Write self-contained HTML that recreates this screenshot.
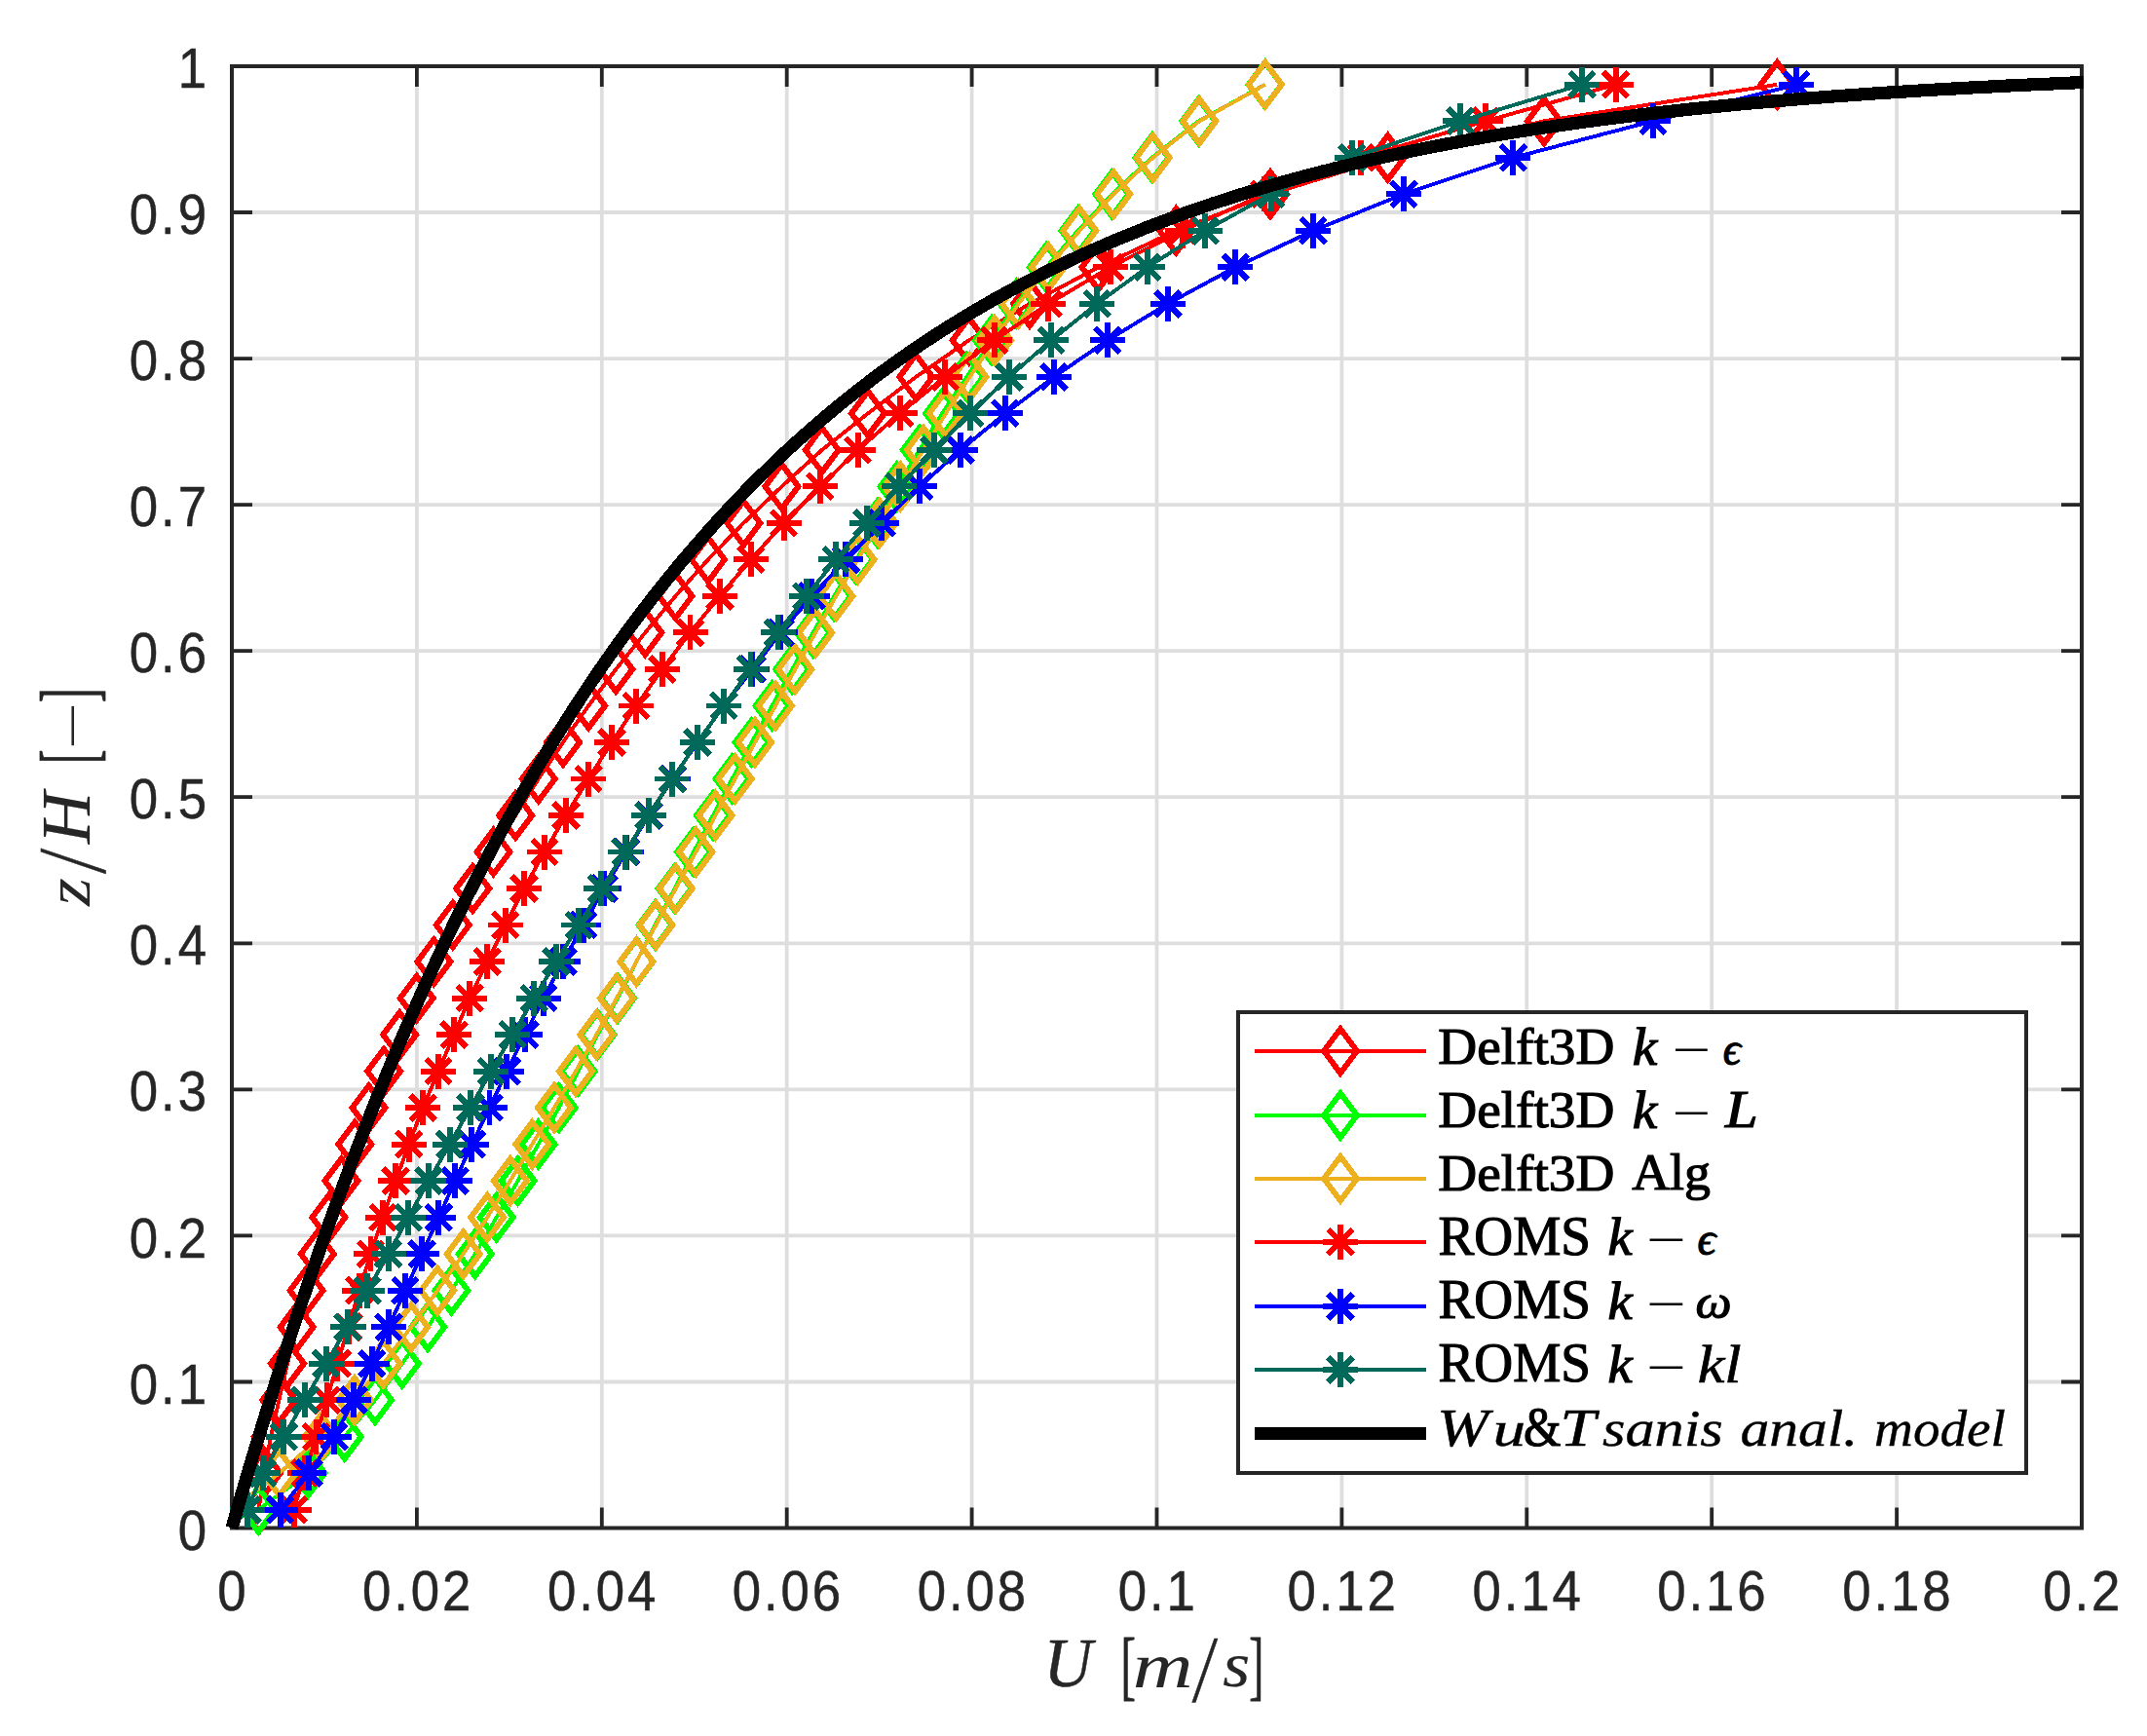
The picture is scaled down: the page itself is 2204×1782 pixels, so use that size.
<!DOCTYPE html>
<html lang="en"><head><meta charset="utf-8"><title>Velocity profiles</title>
<style>html,body{margin:0;padding:0;background:#fff}svg{display:block}text{font-family:"Liberation Sans",sans-serif}.s{font-family:"Liberation Serif",serif}.si{font-family:"Liberation Serif",serif;font-style:italic}.k{fill:#000}</style></head><body>
<svg width="2204" height="1782" viewBox="0 0 2204 1782">
<rect width="2204" height="1782" fill="#fff"/>
<path d="M427.9 68V1568.5M617.8 68V1568.5M807.7 68V1568.5M997.6 68V1568.5M1187.5 68V1568.5M1377.4 68V1568.5M1567.3 68V1568.5M1757.2 68V1568.5M1947.1 68V1568.5M238 1418.5H2137M238 1268.4H2137M238 1118.3H2137M238 968.3H2137M238 818.2H2137M238 668.2H2137M238 518.1H2137M238 368.1H2137M238 218H2137" stroke="#dedede" stroke-width="3.8" fill="none"/>
<path d="M427.9 68v21M427.9 1568.5v-21M238 1418.5h21M2137 1418.5h-21M617.8 68v21M617.8 1568.5v-21M238 1268.4h21M2137 1268.4h-21M807.7 68v21M807.7 1568.5v-21M238 1118.3h21M2137 1118.3h-21M997.6 68v21M997.6 1568.5v-21M238 968.3h21M2137 968.3h-21M1187.5 68v21M1187.5 1568.5v-21M238 818.2h21M2137 818.2h-21M1377.4 68v21M1377.4 1568.5v-21M238 668.2h21M2137 668.2h-21M1567.3 68v21M1567.3 1568.5v-21M238 518.1h21M2137 518.1h-21M1757.2 68v21M1757.2 1568.5v-21M238 368.1h21M2137 368.1h-21M1947.1 68v21M1947.1 1568.5v-21M238 218h21M2137 218h-21" stroke="#262626" stroke-width="3.8" fill="none"/>
<rect x="238" y="68" width="1899" height="1500.5" stroke="#262626" stroke-width="4" fill="none"/>
<polyline points="265.5,1549.7 271,1512.2 278,1474.7 286.4,1437.2 295,1399.7 304.7,1362.2 314.6,1324.7 325.8,1287.2 337.5,1249.6 350.5,1212.1 364.3,1174.6 378.6,1137.1 394.1,1099.6 410.2,1062.1 427.7,1024.6 445.4,987.1 464.8,949.5 485.3,912 506.5,874.5 529.2,837 552.8,799.5 578,762 604.1,724.5 632.3,687 662.3,649.4 693.4,611.9 726.9,574.4 763.3,536.9 802.5,499.4 843.8,461.9 891,424.4 940.3,386.9 994.7,349.3 1057,311.8 1127.5,274.3 1207.3,236.8 1304,199.3 1424.6,161.8 1585,124.3 1824.4,86.8" stroke="#ff0000" stroke-width="3.9" fill="none" stroke-linejoin="round" shape-rendering="crispEdges"/>
<path d="M265.5 1527L282.5 1549.7L265.5 1572.4L248.5 1549.7ZM271 1489.5L288 1512.2L271 1534.9L254 1512.2ZM278 1452L295 1474.7L278 1497.4L261 1474.7ZM286.4 1414.5L303.4 1437.2L286.4 1459.9L269.4 1437.2ZM295 1377L312 1399.7L295 1422.4L278 1399.7ZM304.7 1339.5L321.7 1362.2L304.7 1384.9L287.7 1362.2ZM314.6 1302L331.6 1324.7L314.6 1347.4L297.6 1324.7ZM325.8 1264.5L342.8 1287.2L325.8 1309.9L308.8 1287.2ZM337.5 1226.9L354.5 1249.6L337.5 1272.3L320.5 1249.6ZM350.5 1189.4L367.5 1212.1L350.5 1234.8L333.5 1212.1ZM364.3 1151.9L381.3 1174.6L364.3 1197.3L347.3 1174.6ZM378.6 1114.4L395.6 1137.1L378.6 1159.8L361.6 1137.1ZM394.1 1076.9L411.1 1099.6L394.1 1122.3L377.1 1099.6ZM410.2 1039.4L427.2 1062.1L410.2 1084.8L393.2 1062.1ZM427.7 1001.9L444.7 1024.6L427.7 1047.3L410.7 1024.6ZM445.4 964.4L462.4 987.1L445.4 1009.8L428.4 987.1ZM464.8 926.8L481.8 949.5L464.8 972.2L447.8 949.5ZM485.3 889.3L502.3 912L485.3 934.7L468.3 912ZM506.5 851.8L523.5 874.5L506.5 897.2L489.5 874.5ZM529.2 814.3L546.2 837L529.2 859.7L512.2 837ZM552.8 776.8L569.8 799.5L552.8 822.2L535.8 799.5ZM578 739.3L595 762L578 784.7L561 762ZM604.1 701.8L621.1 724.5L604.1 747.2L587.1 724.5ZM632.3 664.3L649.3 687L632.3 709.7L615.3 687ZM662.3 626.7L679.3 649.4L662.3 672.1L645.3 649.4ZM693.4 589.2L710.4 611.9L693.4 634.6L676.4 611.9ZM726.9 551.7L743.9 574.4L726.9 597.1L709.9 574.4ZM763.3 514.2L780.3 536.9L763.3 559.6L746.3 536.9ZM802.5 476.7L819.5 499.4L802.5 522.1L785.5 499.4ZM843.8 439.2L860.8 461.9L843.8 484.6L826.8 461.9ZM891 401.7L908 424.4L891 447.1L874 424.4ZM940.3 364.2L957.3 386.9L940.3 409.6L923.3 386.9ZM994.7 326.6L1011.7 349.3L994.7 372L977.7 349.3ZM1057 289.1L1074 311.8L1057 334.5L1040 311.8ZM1127.5 251.6L1144.5 274.3L1127.5 297L1110.5 274.3ZM1207.3 214.1L1224.3 236.8L1207.3 259.5L1190.3 236.8ZM1304 176.6L1321 199.3L1304 222L1287 199.3ZM1424.6 139.1L1441.6 161.8L1424.6 184.5L1407.6 161.8ZM1585 101.6L1602 124.3L1585 147L1568 124.3ZM1824.4 64.1L1841.4 86.8L1824.4 109.5L1807.4 86.8Z" stroke="#ff0000" stroke-width="5.9" fill="none" stroke-linejoin="miter" stroke-miterlimit="10" shape-rendering="crispEdges"/>
<polyline points="265.2,1549.7 316.5,1512.2 353.7,1474.7 385,1437.2 412.8,1399.7 439.2,1362.2 463.4,1324.7 487.7,1287.2 509.7,1249.6 531.6,1212.1 552.6,1174.6 573.7,1137.1 593.6,1099.6 613.5,1062.1 634,1024.6 653.5,987.1 672.5,949.5 692.7,912 712,874.5 732,837 751.6,799.5 771.6,762 792.6,724.5 813.2,687 834.6,649.4 856.2,611.9 879,574.4 901,536.9 920.6,499.4 943.9,461.9 967.2,424.4 992.3,386.9 1018,349.3 1043.3,311.8 1074,274.3 1106.5,236.8 1141.5,199.3 1182.5,161.8 1230.5,124.3 1298.5,86.8" stroke="#00ff00" stroke-width="3.9" fill="none" stroke-linejoin="round" shape-rendering="crispEdges"/>
<path d="M265.2 1527L282.2 1549.7L265.2 1572.4L248.2 1549.7ZM316.5 1489.5L333.5 1512.2L316.5 1534.9L299.5 1512.2ZM353.7 1452L370.7 1474.7L353.7 1497.4L336.7 1474.7ZM385 1414.5L402 1437.2L385 1459.9L368 1437.2ZM412.8 1377L429.8 1399.7L412.8 1422.4L395.8 1399.7ZM439.2 1339.5L456.2 1362.2L439.2 1384.9L422.2 1362.2ZM463.4 1302L480.4 1324.7L463.4 1347.4L446.4 1324.7ZM487.7 1264.5L504.7 1287.2L487.7 1309.9L470.7 1287.2ZM509.7 1226.9L526.7 1249.6L509.7 1272.3L492.7 1249.6ZM531.6 1189.4L548.6 1212.1L531.6 1234.8L514.6 1212.1ZM552.6 1151.9L569.6 1174.6L552.6 1197.3L535.6 1174.6ZM573.7 1114.4L590.7 1137.1L573.7 1159.8L556.7 1137.1ZM593.6 1076.9L610.6 1099.6L593.6 1122.3L576.6 1099.6ZM613.5 1039.4L630.5 1062.1L613.5 1084.8L596.5 1062.1ZM634 1001.9L651 1024.6L634 1047.3L617 1024.6ZM653.5 964.4L670.5 987.1L653.5 1009.8L636.5 987.1ZM672.5 926.8L689.5 949.5L672.5 972.2L655.5 949.5ZM692.7 889.3L709.7 912L692.7 934.7L675.7 912ZM712 851.8L729 874.5L712 897.2L695 874.5ZM732 814.3L749 837L732 859.7L715 837ZM751.6 776.8L768.6 799.5L751.6 822.2L734.6 799.5ZM771.6 739.3L788.6 762L771.6 784.7L754.6 762ZM792.6 701.8L809.6 724.5L792.6 747.2L775.6 724.5ZM813.2 664.3L830.2 687L813.2 709.7L796.2 687ZM834.6 626.7L851.6 649.4L834.6 672.1L817.6 649.4ZM856.2 589.2L873.2 611.9L856.2 634.6L839.2 611.9ZM879 551.7L896 574.4L879 597.1L862 574.4ZM901 514.2L918 536.9L901 559.6L884 536.9ZM920.6 476.7L937.6 499.4L920.6 522.1L903.6 499.4ZM943.9 439.2L960.9 461.9L943.9 484.6L926.9 461.9ZM967.2 401.7L984.2 424.4L967.2 447.1L950.2 424.4ZM992.3 364.2L1009.3 386.9L992.3 409.6L975.3 386.9ZM1018 326.6L1035 349.3L1018 372L1001 349.3ZM1043.3 289.1L1060.3 311.8L1043.3 334.5L1026.3 311.8ZM1074 251.6L1091 274.3L1074 297L1057 274.3ZM1106.5 214.1L1123.5 236.8L1106.5 259.5L1089.5 236.8ZM1141.5 176.6L1158.5 199.3L1141.5 222L1124.5 199.3ZM1182.5 139.1L1199.5 161.8L1182.5 184.5L1165.5 161.8ZM1230.5 101.6L1247.5 124.3L1230.5 147L1213.5 124.3ZM1298.5 64.1L1315.5 86.8L1298.5 109.5L1281.5 86.8Z" stroke="#00ff00" stroke-width="5.9" fill="none" stroke-linejoin="miter" stroke-miterlimit="10" shape-rendering="crispEdges"/>
<polyline points="236.6,1549.7 286.7,1512.2 329.6,1474.7 364,1437.2 393.6,1399.7 422.1,1362.2 449.1,1324.7 475.7,1287.2 500.2,1249.6 523.8,1212.1 546.3,1174.6 569,1137.1 591,1099.6 612.3,1062.1 633,1024.6 653.3,987.1 673.4,949.5 693.8,912 714.4,874.5 734.5,837 754.6,799.5 775.1,762 796,724.5 816.2,687 837.2,649.4 858.3,611.9 880.6,574.4 903,536.9 924.3,499.4 948,461.9 970.9,424.4 995.5,386.9 1021,349.3 1045.4,311.8 1076.2,274.3 1108.3,236.8 1143.2,199.3 1183.6,161.8 1231.3,124.3 1298.8,86.8" stroke="#edb120" stroke-width="3.9" fill="none" stroke-linejoin="round" shape-rendering="crispEdges"/>
<path d="M286.7 1489.5L303.7 1512.2L286.7 1534.9L269.7 1512.2ZM329.6 1452L346.6 1474.7L329.6 1497.4L312.6 1474.7ZM364 1414.5L381 1437.2L364 1459.9L347 1437.2ZM393.6 1377L410.6 1399.7L393.6 1422.4L376.6 1399.7ZM422.1 1339.5L439.1 1362.2L422.1 1384.9L405.1 1362.2ZM449.1 1302L466.1 1324.7L449.1 1347.4L432.1 1324.7ZM475.7 1264.5L492.7 1287.2L475.7 1309.9L458.7 1287.2ZM500.2 1226.9L517.2 1249.6L500.2 1272.3L483.2 1249.6ZM523.8 1189.4L540.8 1212.1L523.8 1234.8L506.8 1212.1ZM546.3 1151.9L563.3 1174.6L546.3 1197.3L529.3 1174.6ZM569 1114.4L586 1137.1L569 1159.8L552 1137.1ZM591 1076.9L608 1099.6L591 1122.3L574 1099.6ZM612.3 1039.4L629.3 1062.1L612.3 1084.8L595.3 1062.1ZM633 1001.9L650 1024.6L633 1047.3L616 1024.6ZM653.3 964.4L670.3 987.1L653.3 1009.8L636.3 987.1ZM673.4 926.8L690.4 949.5L673.4 972.2L656.4 949.5ZM693.8 889.3L710.8 912L693.8 934.7L676.8 912ZM714.4 851.8L731.4 874.5L714.4 897.2L697.4 874.5ZM734.5 814.3L751.5 837L734.5 859.7L717.5 837ZM754.6 776.8L771.6 799.5L754.6 822.2L737.6 799.5ZM775.1 739.3L792.1 762L775.1 784.7L758.1 762ZM796 701.8L813 724.5L796 747.2L779 724.5ZM816.2 664.3L833.2 687L816.2 709.7L799.2 687ZM837.2 626.7L854.2 649.4L837.2 672.1L820.2 649.4ZM858.3 589.2L875.3 611.9L858.3 634.6L841.3 611.9ZM880.6 551.7L897.6 574.4L880.6 597.1L863.6 574.4ZM903 514.2L920 536.9L903 559.6L886 536.9ZM924.3 476.7L941.3 499.4L924.3 522.1L907.3 499.4ZM948 439.2L965 461.9L948 484.6L931 461.9ZM970.9 401.7L987.9 424.4L970.9 447.1L953.9 424.4ZM995.5 364.2L1012.5 386.9L995.5 409.6L978.5 386.9ZM1021 326.6L1038 349.3L1021 372L1004 349.3ZM1045.4 289.1L1062.4 311.8L1045.4 334.5L1028.4 311.8ZM1076.2 251.6L1093.2 274.3L1076.2 297L1059.2 274.3ZM1108.3 214.1L1125.3 236.8L1108.3 259.5L1091.3 236.8ZM1143.2 176.6L1160.2 199.3L1143.2 222L1126.2 199.3ZM1183.6 139.1L1200.6 161.8L1183.6 184.5L1166.6 161.8ZM1231.3 101.6L1248.3 124.3L1231.3 147L1214.3 124.3ZM1298.8 64.1L1315.8 86.8L1298.8 109.5L1281.8 86.8Z" stroke="#edb120" stroke-width="5.9" fill="none" stroke-linejoin="miter" stroke-miterlimit="10" shape-rendering="crispEdges"/>
<polyline points="301.6,1549.7 313.1,1512.2 324.5,1474.7 335.5,1437.2 346.4,1399.7 357.8,1362.2 368.8,1324.7 380.5,1287.2 393.1,1249.6 406.2,1212.1 419.8,1174.6 434.1,1137.1 450,1099.6 466.1,1062.1 482.1,1024.6 500.2,987.1 518.8,949.5 538,912 559,874.5 581,837 604.1,799.5 627.9,762 653.1,724.5 679.8,687 708.5,649.4 738.9,611.9 770.9,574.4 804.7,536.9 842,499.4 880.7,461.9 923.6,424.4 970.1,386.9 1020.8,349.3 1076.4,311.8 1139.7,274.3 1214,236.8 1298,199.3 1397.3,161.8 1525.1,124.3 1658.6,86.8" stroke="#ff0000" stroke-width="3.9" fill="none" stroke-linejoin="round" shape-rendering="crispEdges"/>
<path d="M283.6 1549.7H319.6M301.6 1531.7V1567.7M288.9 1537L314.3 1562.5M288.9 1562.5L314.3 1537M295.1 1512.2H331.1M313.1 1494.2V1530.2M300.4 1499.5L325.8 1525M300.4 1525L325.8 1499.5M306.5 1474.7H342.5M324.5 1456.7V1492.7M311.8 1462L337.2 1487.4M311.8 1487.4L337.2 1462M317.5 1437.2H353.5M335.5 1419.2V1455.2M322.8 1424.5L348.2 1449.9M322.8 1449.9L348.2 1424.5M328.4 1399.7H364.4M346.4 1381.7V1417.7M333.7 1387L359.1 1412.4M333.7 1412.4L359.1 1387M339.8 1362.2H375.8M357.8 1344.2V1380.2M345.1 1349.5L370.5 1374.9M345.1 1374.9L370.5 1349.5M350.8 1324.7H386.8M368.8 1306.7V1342.7M356.1 1311.9L381.5 1337.4M356.1 1337.4L381.5 1311.9M362.5 1287.2H398.5M380.5 1269.2V1305.2M367.8 1274.4L393.2 1299.9M367.8 1299.9L393.2 1274.4M375.1 1249.6H411.1M393.1 1231.6V1267.6M380.4 1236.9L405.8 1262.4M380.4 1262.4L405.8 1236.9M388.2 1212.1H424.2M406.2 1194.1V1230.1M393.5 1199.4L418.9 1224.9M393.5 1224.9L418.9 1199.4M401.8 1174.6H437.8M419.8 1156.6V1192.6M407.1 1161.9L432.5 1187.3M407.1 1187.3L432.5 1161.9M416.1 1137.1H452.1M434.1 1119.1V1155.1M421.4 1124.4L446.8 1149.8M421.4 1149.8L446.8 1124.4M432 1099.6H468M450 1081.6V1117.6M437.3 1086.9L462.7 1112.3M437.3 1112.3L462.7 1086.9M448.1 1062.1H484.1M466.1 1044.1V1080.1M453.4 1049.4L478.8 1074.8M453.4 1074.8L478.8 1049.4M464.1 1024.6H500.1M482.1 1006.6V1042.6M469.4 1011.8L494.8 1037.3M469.4 1037.3L494.8 1011.8M482.2 987.1H518.2M500.2 969.1V1005.1M487.5 974.3L512.9 999.8M487.5 999.8L512.9 974.3M500.8 949.5H536.8M518.8 931.5V967.5M506.1 936.8L531.5 962.3M506.1 962.3L531.5 936.8M520 912H556M538 894V930M525.3 899.3L550.7 924.8M525.3 924.8L550.7 899.3M541 874.5H577M559 856.5V892.5M546.3 861.8L571.7 887.2M546.3 887.2L571.7 861.8M563 837H599M581 819V855M568.3 824.3L593.7 849.7M568.3 849.7L593.7 824.3M586.1 799.5H622.1M604.1 781.5V817.5M591.4 786.8L616.8 812.2M591.4 812.2L616.8 786.8M609.9 762H645.9M627.9 744V780M615.2 749.3L640.6 774.7M615.2 774.7L640.6 749.3M635.1 724.5H671.1M653.1 706.5V742.5M640.4 711.7L665.8 737.2M640.4 737.2L665.8 711.7M661.8 687H697.8M679.8 669V705M667.1 674.2L692.5 699.7M667.1 699.7L692.5 674.2M690.5 649.4H726.5M708.5 631.4V667.4M695.8 636.7L721.2 662.2M695.8 662.2L721.2 636.7M720.9 611.9H756.9M738.9 593.9V629.9M726.2 599.2L751.6 624.7M726.2 624.7L751.6 599.2M752.9 574.4H788.9M770.9 556.4V592.4M758.2 561.7L783.6 587.1M758.2 587.1L783.6 561.7M786.7 536.9H822.7M804.7 518.9V554.9M792 524.2L817.4 549.6M792 549.6L817.4 524.2M824 499.4H860M842 481.4V517.4M829.3 486.7L854.7 512.1M829.3 512.1L854.7 486.7M862.7 461.9H898.7M880.7 443.9V479.9M868 449.2L893.4 474.6M868 474.6L893.4 449.2M905.6 424.4H941.6M923.6 406.4V442.4M910.9 411.6L936.3 437.1M910.9 437.1L936.3 411.6M952.1 386.9H988.1M970.1 368.9V404.9M957.4 374.1L982.8 399.6M957.4 399.6L982.8 374.1M1002.8 349.3H1038.8M1020.8 331.3V367.3M1008.1 336.6L1033.5 362.1M1008.1 362.1L1033.5 336.6M1058.4 311.8H1094.4M1076.4 293.8V329.8M1063.7 299.1L1089.1 324.6M1063.7 324.6L1089.1 299.1M1121.7 274.3H1157.7M1139.7 256.3V292.3M1127 261.6L1152.4 287M1127 287L1152.4 261.6M1196 236.8H1232M1214 218.8V254.8M1201.3 224.1L1226.7 249.5M1201.3 249.5L1226.7 224.1M1280 199.3H1316M1298 181.3V217.3M1285.3 186.6L1310.7 212M1285.3 212L1310.7 186.6M1379.3 161.8H1415.3M1397.3 143.8V179.8M1384.6 149.1L1410 174.5M1384.6 174.5L1410 149.1M1507.1 124.3H1543.1M1525.1 106.3V142.3M1512.4 111.5L1537.8 137M1512.4 137L1537.8 111.5M1640.6 86.8H1676.6M1658.6 68.8V104.8M1645.9 74L1671.3 99.5M1645.9 99.5L1671.3 74" stroke="#ff0000" stroke-width="5.9" fill="none" shape-rendering="crispEdges"/>
<polyline points="287.6,1549.7 317.2,1512.2 343.1,1474.7 363.2,1437.2 381.8,1399.7 399,1362.2 415.9,1324.7 433.1,1287.2 450.4,1249.6 467.1,1212.1 484.4,1174.6 502.5,1137.1 520.4,1099.6 538.9,1062.1 557.9,1024.6 578,987.1 598.9,949.5 620,912 642.8,874.5 666,837 690.5,799.5 716,762 743,724.5 772.4,687 801.3,649.4 833.5,611.9 868.3,574.4 905.3,536.9 944.1,499.4 986,461.9 1032,424.4 1081.9,386.9 1137,349.3 1198.8,311.8 1268.2,274.3 1348,236.8 1440.9,199.3 1553.4,161.8 1696.9,124.3 1844.1,86.8" stroke="#0000ff" stroke-width="3.9" fill="none" stroke-linejoin="round" shape-rendering="crispEdges"/>
<path d="M269.6 1549.7H305.6M287.6 1531.7V1567.7M274.9 1537L300.3 1562.5M274.9 1562.5L300.3 1537M299.2 1512.2H335.2M317.2 1494.2V1530.2M304.5 1499.5L329.9 1525M304.5 1525L329.9 1499.5M325.1 1474.7H361.1M343.1 1456.7V1492.7M330.4 1462L355.8 1487.4M330.4 1487.4L355.8 1462M345.2 1437.2H381.2M363.2 1419.2V1455.2M350.5 1424.5L375.9 1449.9M350.5 1449.9L375.9 1424.5M363.8 1399.7H399.8M381.8 1381.7V1417.7M369.1 1387L394.5 1412.4M369.1 1412.4L394.5 1387M381 1362.2H417M399 1344.2V1380.2M386.3 1349.5L411.7 1374.9M386.3 1374.9L411.7 1349.5M397.9 1324.7H433.9M415.9 1306.7V1342.7M403.2 1311.9L428.6 1337.4M403.2 1337.4L428.6 1311.9M415.1 1287.2H451.1M433.1 1269.2V1305.2M420.4 1274.4L445.8 1299.9M420.4 1299.9L445.8 1274.4M432.4 1249.6H468.4M450.4 1231.6V1267.6M437.7 1236.9L463.1 1262.4M437.7 1262.4L463.1 1236.9M449.1 1212.1H485.1M467.1 1194.1V1230.1M454.4 1199.4L479.8 1224.9M454.4 1224.9L479.8 1199.4M466.4 1174.6H502.4M484.4 1156.6V1192.6M471.7 1161.9L497.1 1187.3M471.7 1187.3L497.1 1161.9M484.5 1137.1H520.5M502.5 1119.1V1155.1M489.8 1124.4L515.2 1149.8M489.8 1149.8L515.2 1124.4M502.4 1099.6H538.4M520.4 1081.6V1117.6M507.7 1086.9L533.1 1112.3M507.7 1112.3L533.1 1086.9M520.9 1062.1H556.9M538.9 1044.1V1080.1M526.2 1049.4L551.6 1074.8M526.2 1074.8L551.6 1049.4M539.9 1024.6H575.9M557.9 1006.6V1042.6M545.2 1011.8L570.6 1037.3M545.2 1037.3L570.6 1011.8M560 987.1H596M578 969.1V1005.1M565.3 974.3L590.7 999.8M565.3 999.8L590.7 974.3M580.9 949.5H616.9M598.9 931.5V967.5M586.2 936.8L611.6 962.3M586.2 962.3L611.6 936.8M602 912H638M620 894V930M607.3 899.3L632.7 924.8M607.3 924.8L632.7 899.3M624.8 874.5H660.8M642.8 856.5V892.5M630.1 861.8L655.5 887.2M630.1 887.2L655.5 861.8M648 837H684M666 819V855M653.3 824.3L678.7 849.7M653.3 849.7L678.7 824.3M672.5 799.5H708.5M690.5 781.5V817.5M677.8 786.8L703.2 812.2M677.8 812.2L703.2 786.8M698 762H734M716 744V780M703.3 749.3L728.7 774.7M703.3 774.7L728.7 749.3M725 724.5H761M743 706.5V742.5M730.3 711.7L755.7 737.2M730.3 737.2L755.7 711.7M754.4 687H790.4M772.4 669V705M759.7 674.2L785.1 699.7M759.7 699.7L785.1 674.2M783.3 649.4H819.3M801.3 631.4V667.4M788.6 636.7L814 662.2M788.6 662.2L814 636.7M815.5 611.9H851.5M833.5 593.9V629.9M820.8 599.2L846.2 624.7M820.8 624.7L846.2 599.2M850.3 574.4H886.3M868.3 556.4V592.4M855.6 561.7L881 587.1M855.6 587.1L881 561.7M887.3 536.9H923.3M905.3 518.9V554.9M892.6 524.2L918 549.6M892.6 549.6L918 524.2M926.1 499.4H962.1M944.1 481.4V517.4M931.4 486.7L956.8 512.1M931.4 512.1L956.8 486.7M968 461.9H1004M986 443.9V479.9M973.3 449.2L998.7 474.6M973.3 474.6L998.7 449.2M1014 424.4H1050M1032 406.4V442.4M1019.3 411.6L1044.7 437.1M1019.3 437.1L1044.7 411.6M1063.9 386.9H1099.9M1081.9 368.9V404.9M1069.2 374.1L1094.6 399.6M1069.2 399.6L1094.6 374.1M1119 349.3H1155M1137 331.3V367.3M1124.3 336.6L1149.7 362.1M1124.3 362.1L1149.7 336.6M1180.8 311.8H1216.8M1198.8 293.8V329.8M1186.1 299.1L1211.5 324.6M1186.1 324.6L1211.5 299.1M1250.2 274.3H1286.2M1268.2 256.3V292.3M1255.5 261.6L1280.9 287M1255.5 287L1280.9 261.6M1330 236.8H1366M1348 218.8V254.8M1335.3 224.1L1360.7 249.5M1335.3 249.5L1360.7 224.1M1422.9 199.3H1458.9M1440.9 181.3V217.3M1428.2 186.6L1453.6 212M1428.2 212L1453.6 186.6M1535.4 161.8H1571.4M1553.4 143.8V179.8M1540.7 149.1L1566.1 174.5M1540.7 174.5L1566.1 149.1M1678.9 124.3H1714.9M1696.9 106.3V142.3M1684.2 111.5L1709.6 137M1684.2 137L1709.6 111.5M1826.1 86.8H1862.1M1844.1 68.8V104.8M1831.4 74L1856.8 99.5M1831.4 99.5L1856.8 74" stroke="#0000ff" stroke-width="5.9" fill="none" shape-rendering="crispEdges"/>
<polyline points="253.9,1549.7 269.7,1512.2 291.3,1474.7 312.9,1437.2 334.7,1399.7 356.7,1362.2 377.2,1324.7 398.6,1287.2 419.2,1249.6 440.1,1212.1 461.7,1174.6 483,1137.1 504,1099.6 526.3,1062.1 548.2,1024.6 571,987.1 594.3,949.5 617.4,912 641.9,874.5 665.6,837 690.3,799.5 715.9,762 743,724.5 770.5,687 798.5,649.4 827.7,611.9 858.1,574.4 890,536.9 923,499.4 959,461.9 996.2,424.4 1035.9,386.9 1079.2,349.3 1126.1,311.8 1177.8,274.3 1237.1,236.8 1304.6,199.3 1387.9,161.8 1499.2,124.3 1624,86.8" stroke="#00695a" stroke-width="3.9" fill="none" stroke-linejoin="round" shape-rendering="crispEdges"/>
<path d="M235.9 1549.7H271.9M253.9 1531.7V1567.7M241.2 1537L266.6 1562.5M241.2 1562.5L266.6 1537M251.7 1512.2H287.7M269.7 1494.2V1530.2M257 1499.5L282.4 1525M257 1525L282.4 1499.5M273.3 1474.7H309.3M291.3 1456.7V1492.7M278.6 1462L304 1487.4M278.6 1487.4L304 1462M294.9 1437.2H330.9M312.9 1419.2V1455.2M300.2 1424.5L325.6 1449.9M300.2 1449.9L325.6 1424.5M316.7 1399.7H352.7M334.7 1381.7V1417.7M322 1387L347.4 1412.4M322 1412.4L347.4 1387M338.7 1362.2H374.7M356.7 1344.2V1380.2M344 1349.5L369.4 1374.9M344 1374.9L369.4 1349.5M359.2 1324.7H395.2M377.2 1306.7V1342.7M364.5 1311.9L389.9 1337.4M364.5 1337.4L389.9 1311.9M380.6 1287.2H416.6M398.6 1269.2V1305.2M385.9 1274.4L411.3 1299.9M385.9 1299.9L411.3 1274.4M401.2 1249.6H437.2M419.2 1231.6V1267.6M406.5 1236.9L431.9 1262.4M406.5 1262.4L431.9 1236.9M422.1 1212.1H458.1M440.1 1194.1V1230.1M427.4 1199.4L452.8 1224.9M427.4 1224.9L452.8 1199.4M443.7 1174.6H479.7M461.7 1156.6V1192.6M449 1161.9L474.4 1187.3M449 1187.3L474.4 1161.9M465 1137.1H501M483 1119.1V1155.1M470.3 1124.4L495.7 1149.8M470.3 1149.8L495.7 1124.4M486 1099.6H522M504 1081.6V1117.6M491.3 1086.9L516.7 1112.3M491.3 1112.3L516.7 1086.9M508.3 1062.1H544.3M526.3 1044.1V1080.1M513.6 1049.4L539 1074.8M513.6 1074.8L539 1049.4M530.2 1024.6H566.2M548.2 1006.6V1042.6M535.5 1011.8L560.9 1037.3M535.5 1037.3L560.9 1011.8M553 987.1H589M571 969.1V1005.1M558.3 974.3L583.7 999.8M558.3 999.8L583.7 974.3M576.3 949.5H612.3M594.3 931.5V967.5M581.6 936.8L607 962.3M581.6 962.3L607 936.8M599.4 912H635.4M617.4 894V930M604.7 899.3L630.1 924.8M604.7 924.8L630.1 899.3M623.9 874.5H659.9M641.9 856.5V892.5M629.2 861.8L654.6 887.2M629.2 887.2L654.6 861.8M647.6 837H683.6M665.6 819V855M652.9 824.3L678.3 849.7M652.9 849.7L678.3 824.3M672.3 799.5H708.3M690.3 781.5V817.5M677.6 786.8L703 812.2M677.6 812.2L703 786.8M697.9 762H733.9M715.9 744V780M703.2 749.3L728.6 774.7M703.2 774.7L728.6 749.3M725 724.5H761M743 706.5V742.5M730.3 711.7L755.7 737.2M730.3 737.2L755.7 711.7M752.5 687H788.5M770.5 669V705M757.8 674.2L783.2 699.7M757.8 699.7L783.2 674.2M780.5 649.4H816.5M798.5 631.4V667.4M785.8 636.7L811.2 662.2M785.8 662.2L811.2 636.7M809.7 611.9H845.7M827.7 593.9V629.9M815 599.2L840.4 624.7M815 624.7L840.4 599.2M840.1 574.4H876.1M858.1 556.4V592.4M845.4 561.7L870.8 587.1M845.4 587.1L870.8 561.7M872 536.9H908M890 518.9V554.9M877.3 524.2L902.7 549.6M877.3 549.6L902.7 524.2M905 499.4H941M923 481.4V517.4M910.3 486.7L935.7 512.1M910.3 512.1L935.7 486.7M941 461.9H977M959 443.9V479.9M946.3 449.2L971.7 474.6M946.3 474.6L971.7 449.2M978.2 424.4H1014.2M996.2 406.4V442.4M983.5 411.6L1008.9 437.1M983.5 437.1L1008.9 411.6M1017.9 386.9H1053.9M1035.9 368.9V404.9M1023.2 374.1L1048.6 399.6M1023.2 399.6L1048.6 374.1M1061.2 349.3H1097.2M1079.2 331.3V367.3M1066.5 336.6L1091.9 362.1M1066.5 362.1L1091.9 336.6M1108.1 311.8H1144.1M1126.1 293.8V329.8M1113.4 299.1L1138.8 324.6M1113.4 324.6L1138.8 299.1M1159.8 274.3H1195.8M1177.8 256.3V292.3M1165.1 261.6L1190.5 287M1165.1 287L1190.5 261.6M1219.1 236.8H1255.1M1237.1 218.8V254.8M1224.4 224.1L1249.8 249.5M1224.4 249.5L1249.8 224.1M1286.6 199.3H1322.6M1304.6 181.3V217.3M1291.9 186.6L1317.3 212M1291.9 212L1317.3 186.6M1369.9 161.8H1405.9M1387.9 143.8V179.8M1375.2 149.1L1400.6 174.5M1375.2 174.5L1400.6 149.1M1481.2 124.3H1517.2M1499.2 106.3V142.3M1486.5 111.5L1511.9 137M1486.5 137L1511.9 111.5M1606 86.8H1642M1624 68.8V104.8M1611.3 74L1636.7 99.5M1611.3 99.5L1636.7 74" stroke="#00695a" stroke-width="5.9" fill="none" shape-rendering="crispEdges"/>
<polyline points="238,1568.5 242.3,1553.5 246.6,1538.5 251,1523.5 255.5,1508.5 259.9,1493.5 264.5,1478.5 269.1,1463.5 273.7,1448.5 278.4,1433.5 283.1,1418.5 287.9,1403.4 292.7,1388.4 297.6,1373.4 302.5,1358.4 307.5,1343.4 312.6,1328.4 317.7,1313.4 322.9,1298.4 328.1,1283.4 333.4,1268.4 338.8,1253.4 344.3,1238.4 349.8,1223.4 355.4,1208.4 361,1193.4 366.8,1178.4 372.6,1163.4 378.5,1148.4 384.4,1133.4 390.5,1118.3 396.6,1103.3 402.9,1088.3 409.2,1073.3 415.6,1058.3 422.1,1043.3 428.8,1028.3 435.5,1013.3 442.3,998.3 449.3,983.3 456.3,968.3 463.5,953.3 470.8,938.3 478.2,923.3 485.8,908.3 493.4,893.3 501.3,878.3 509.2,863.3 517.4,848.3 525.7,833.3 534.1,818.2 542.7,803.2 551.5,788.2 560.5,773.2 569.7,758.2 579,743.2 588.6,728.2 598.4,713.2 608.4,698.2 618.7,683.2 629.2,668.2 640,653.2 651.1,638.2 662.5,623.2 674.1,608.2 686.1,593.2 698.5,578.2 711.2,563.2 724.3,548.2 737.8,533.2 751.8,518.1 766.2,503.1 781.2,488.1 796.6,473.1 812.7,458.1 829.4,443.1 846.8,428.1 864.9,413.1 883.8,398.1 903.6,383.1 924.3,368.1 946.1,353.1 969.1,338.1 993.4,323.1 1019.2,308.1 1046.6,293.1 1075.9,278.1 1107.3,263.1 1141.3,248.1 1178.2,233.1 1218.6,218 1218.6,218 1219.7,217.7 1220.8,217.3 1221.8,216.9 1222.9,216.5 1224,216.2 1225,215.8 1226.1,215.4 1227.2,215 1228.3,214.7 1229.4,214.3 1230.5,213.9 1231.6,213.5 1232.7,213.2 1233.8,212.8 1234.9,212.4 1236,212 1237.1,211.7 1238.2,211.3 1239.3,210.9 1240.4,210.5 1241.5,210.2 1242.7,209.8 1243.8,209.4 1244.9,209 1246,208.6 1247.2,208.3 1248.3,207.9 1249.5,207.5 1250.6,207.1 1251.7,206.8 1252.9,206.4 1254,206 1255.2,205.6 1256.4,205.3 1257.5,204.9 1258.7,204.5 1259.9,204.1 1261,203.8 1262.2,203.4 1263.4,203 1264.6,202.6 1265.7,202.3 1266.9,201.9 1268.1,201.5 1269.3,201.1 1270.5,200.8 1271.7,200.4 1272.9,200 1274.1,199.6 1275.3,199.2 1276.6,198.9 1277.8,198.5 1279,198.1 1280.2,197.7 1281.5,197.4 1282.7,197 1283.9,196.6 1285.2,196.2 1286.4,195.9 1287.7,195.5 1288.9,195.1 1290.2,194.7 1291.4,194.4 1292.7,194 1293.9,193.6 1295.2,193.2 1296.5,192.9 1297.8,192.5 1299,192.1 1300.3,191.7 1301.6,191.4 1302.9,191 1304.2,190.6 1305.5,190.2 1306.8,189.8 1308.1,189.5 1309.4,189.1 1310.8,188.7 1312.1,188.3 1313.4,188 1314.7,187.6 1316.1,187.2 1317.4,186.8 1318.7,186.5 1320.1,186.1 1321.4,185.7 1322.8,185.3 1324.1,185 1325.5,184.6 1326.9,184.2 1328.2,183.8 1329.6,183.5 1331,183.1 1332.4,182.7 1333.8,182.3 1335.2,182 1336.6,181.6 1338,181.2 1339.4,180.8 1340.8,180.4 1342.2,180.1 1343.6,179.7 1345.1,179.3 1346.5,178.9 1347.9,178.6 1349.4,178.2 1350.8,177.8 1352.3,177.4 1353.7,177.1 1355.2,176.7 1356.6,176.3 1358.1,175.9 1359.6,175.6 1361.1,175.2 1362.6,174.8 1364,174.4 1365.5,174.1 1367,173.7 1368.6,173.3 1370.1,172.9 1371.6,172.6 1373.1,172.2 1374.6,171.8 1376.2,171.4 1377.7,171 1379.3,170.7 1380.8,170.3 1382.4,169.9 1383.9,169.5 1385.5,169.2 1387.1,168.8 1388.6,168.4 1390.2,168 1391.8,167.7 1393.4,167.3 1395,166.9 1396.6,166.5 1398.3,166.2 1399.9,165.8 1401.5,165.4 1403.1,165 1404.8,164.7 1406.4,164.3 1408.1,163.9 1409.7,163.5 1411.4,163.1 1413.1,162.8 1414.8,162.4 1416.4,162 1418.1,161.6 1419.8,161.3 1421.5,160.9 1423.3,160.5 1425,160.1 1426.7,159.8 1428.4,159.4 1430.2,159 1431.9,158.6 1433.7,158.3 1435.4,157.9 1437.2,157.5 1439,157.1 1440.8,156.8 1442.6,156.4 1444.4,156 1446.2,155.6 1448,155.3 1449.8,154.9 1451.6,154.5 1453.5,154.1 1455.3,153.7 1457.2,153.4 1459,153 1460.9,152.6 1462.8,152.2 1464.7,151.9 1466.6,151.5 1468.5,151.1 1470.4,150.7 1472.3,150.4 1474.3,150 1476.2,149.6 1478.1,149.2 1480.1,148.9 1482.1,148.5 1484,148.1 1486,147.7 1488,147.4 1490,147 1492,146.6 1494.1,146.2 1496.1,145.9 1498.1,145.5 1500.2,145.1 1502.2,144.7 1504.3,144.3 1506.4,144 1508.5,143.6 1510.6,143.2 1512.7,142.8 1514.8,142.5 1517,142.1 1519.1,141.7 1521.3,141.3 1523.4,141 1525.6,140.6 1527.8,140.2 1530,139.8 1532.2,139.5 1534.4,139.1 1536.7,138.7 1538.9,138.3 1541.2,138 1543.4,137.6 1545.7,137.2 1548,136.8 1550.3,136.5 1552.6,136.1 1555,135.7 1557.3,135.3 1559.7,134.9 1562,134.6 1564.4,134.2 1566.8,133.8 1569.2,133.4 1571.6,133.1 1574.1,132.7 1576.5,132.3 1579,131.9 1581.5,131.6 1584,131.2 1586.5,130.8 1589,130.4 1591.6,130.1 1594.1,129.7 1596.7,129.3 1599.3,128.9 1601.9,128.6 1604.5,128.2 1607.1,127.8 1609.8,127.4 1612.4,127.1 1615.1,126.7 1617.8,126.3 1620.5,125.9 1623.3,125.5 1626,125.2 1628.8,124.8 1631.6,124.4 1634.4,124 1637.2,123.7 1640.1,123.3 1642.9,122.9 1645.8,122.5 1648.7,122.2 1651.7,121.8 1654.6,121.4 1657.6,121 1660.6,120.7 1663.6,120.3 1666.6,119.9 1669.6,119.5 1672.7,119.2 1675.8,118.8 1678.9,118.4 1682.1,118 1685.2,117.7 1688.4,117.3 1691.6,116.9 1694.8,116.5 1698.1,116.1 1701.4,115.8 1704.7,115.4 1708,115 1711.4,114.6 1714.8,114.3 1718.2,113.9 1721.6,113.5 1725.1,113.1 1728.6,112.8 1732.1,112.4 1735.7,112 1739.3,111.6 1742.9,111.3 1746.6,110.9 1750.2,110.5 1754,110.1 1757.7,109.8 1761.5,109.4 1765.3,109 1769.1,108.6 1773,108.2 1776.9,107.9 1780.9,107.5 1784.9,107.1 1788.9,106.7 1793,106.4 1797.1,106 1801.2,105.6 1805.4,105.2 1809.7,104.9 1813.9,104.5 1818.3,104.1 1822.6,103.7 1827,103.4 1831.5,103 1836,102.6 1840.5,102.2 1845.1,101.9 1849.8,101.5 1854.4,101.1 1859.2,100.7 1864,100.4 1868.9,100 1873.8,99.6 1878.7,99.2 1883.8,98.8 1888.9,98.5 1894,98.1 1899.2,97.7 1904.5,97.3 1909.8,97 1915.3,96.6 1920.7,96.2 1926.3,95.8 1931.9,95.5 1937.6,95.1 1943.4,94.7 1949.3,94.3 1955.2,94 1961.2,93.6 1967.3,93.2 1973.5,92.8 1979.8,92.5 1986.2,92.1 1992.7,91.7 1999.3,91.3 2005.9,91 2012.7,90.6 2019.6,90.2 2026.7,89.8 2033.8,89.4 2041,89.1 2048.4,88.7 2055.9,88.3 2063.6,87.9 2071.4,87.6 2079.3,87.2 2087.4,86.8 2095.6,86.4 2104,86.1 2112.6,85.7 2121.3,85.3 2130.3,84.9 2139,84.6" stroke="#000" stroke-width="13.2" fill="none" stroke-linejoin="round" shape-rendering="crispEdges"/>
<text transform="translate(223.13 1653.30) scale(0.91 1)" font-size="58.0" letter-spacing="3.19" fill="#262626" stroke="#262626" stroke-width="0.5">0</text>
<text transform="translate(372.00 1653.30) scale(0.91 1)" font-size="58.0" letter-spacing="3.19" fill="#262626" stroke="#262626" stroke-width="0.5">0.02</text>
<text transform="translate(561.90 1653.30) scale(0.91 1)" font-size="58.0" letter-spacing="3.19" fill="#262626" stroke="#262626" stroke-width="0.5">0.04</text>
<text transform="translate(751.80 1653.30) scale(0.91 1)" font-size="58.0" letter-spacing="3.19" fill="#262626" stroke="#262626" stroke-width="0.5">0.06</text>
<text transform="translate(941.70 1653.30) scale(0.91 1)" font-size="58.0" letter-spacing="3.19" fill="#262626" stroke="#262626" stroke-width="0.5">0.08</text>
<text transform="translate(1147.72 1653.30) scale(0.91 1)" font-size="58.0" letter-spacing="3.19" fill="#262626" stroke="#262626" stroke-width="0.5">0.1</text>
<text transform="translate(1321.50 1653.30) scale(0.91 1)" font-size="58.0" letter-spacing="3.19" fill="#262626" stroke="#262626" stroke-width="0.5">0.12</text>
<text transform="translate(1511.40 1653.30) scale(0.91 1)" font-size="58.0" letter-spacing="3.19" fill="#262626" stroke="#262626" stroke-width="0.5">0.14</text>
<text transform="translate(1701.30 1653.30) scale(0.91 1)" font-size="58.0" letter-spacing="3.19" fill="#262626" stroke="#262626" stroke-width="0.5">0.16</text>
<text transform="translate(1891.20 1653.30) scale(0.91 1)" font-size="58.0" letter-spacing="3.19" fill="#262626" stroke="#262626" stroke-width="0.5">0.18</text>
<text transform="translate(2097.22 1653.30) scale(0.91 1)" font-size="58.0" letter-spacing="3.19" fill="#262626" stroke="#262626" stroke-width="0.5">0.2</text>
<text transform="translate(182.65 1590.60) scale(0.91 1)" font-size="58.0" letter-spacing="3.19" fill="#262626" stroke="#262626" stroke-width="0.5">0</text>
<text transform="translate(132.84 1440.55) scale(0.91 1)" font-size="58.0" letter-spacing="3.19" fill="#262626" stroke="#262626" stroke-width="0.5">0.1</text>
<text transform="translate(132.84 1290.50) scale(0.91 1)" font-size="58.0" letter-spacing="3.19" fill="#262626" stroke="#262626" stroke-width="0.5">0.2</text>
<text transform="translate(132.84 1140.45) scale(0.91 1)" font-size="58.0" letter-spacing="3.19" fill="#262626" stroke="#262626" stroke-width="0.5">0.3</text>
<text transform="translate(132.84 990.40) scale(0.91 1)" font-size="58.0" letter-spacing="3.19" fill="#262626" stroke="#262626" stroke-width="0.5">0.4</text>
<text transform="translate(132.84 840.35) scale(0.91 1)" font-size="58.0" letter-spacing="3.19" fill="#262626" stroke="#262626" stroke-width="0.5">0.5</text>
<text transform="translate(132.84 690.30) scale(0.91 1)" font-size="58.0" letter-spacing="3.19" fill="#262626" stroke="#262626" stroke-width="0.5">0.6</text>
<text transform="translate(132.84 540.25) scale(0.91 1)" font-size="58.0" letter-spacing="3.19" fill="#262626" stroke="#262626" stroke-width="0.5">0.7</text>
<text transform="translate(132.84 390.20) scale(0.91 1)" font-size="58.0" letter-spacing="3.19" fill="#262626" stroke="#262626" stroke-width="0.5">0.8</text>
<text transform="translate(132.84 240.15) scale(0.91 1)" font-size="58.0" letter-spacing="3.19" fill="#262626" stroke="#262626" stroke-width="0.5">0.9</text>
<text transform="translate(182.65 90.10) scale(0.91 1)" font-size="58.0" letter-spacing="3.19" fill="#262626" stroke="#262626" stroke-width="0.5">1</text>
<text fill="#262626"><tspan class="si" x="1071.49" y="1731.49" font-size="70.98" textLength="49.87" lengthAdjust="spacingAndGlyphs" stroke="#262626" stroke-width="0.50">U</tspan> <tspan class="s" x="1150.42" y="1736.21" font-size="79.16" textLength="15.44" lengthAdjust="spacingAndGlyphs" stroke="#262626" stroke-width="0.80">[</tspan><tspan class="si" x="1162.70" y="1731.50" font-size="65.32" textLength="61.80" lengthAdjust="spacingAndGlyphs">m</tspan><tspan class="si" x="1226.66" y="1745.92" font-size="98.06" textLength="18.27" lengthAdjust="spacingAndGlyphs" stroke="#262626" stroke-width="0.60">/</tspan><tspan class="si" x="1255.18" y="1731.45" font-size="65.21" textLength="27.91" lengthAdjust="spacingAndGlyphs" stroke="#262626" stroke-width="0.20">s</tspan><tspan class="s" x="1282.21" y="1736.21" font-size="79.16" textLength="15.10" lengthAdjust="spacingAndGlyphs" stroke="#262626" stroke-width="0.80">]</tspan></text>
<g transform="translate(92.1 930.8) rotate(-90)">
<text fill="#262626"><tspan class="si" x="0.74" y="0.00" font-size="66.52" textLength="28.81" lengthAdjust="spacingAndGlyphs">z</tspan><tspan class="si" x="36.84" y="14.80" font-size="99.85" textLength="18.13" lengthAdjust="spacingAndGlyphs" stroke="#262626" stroke-width="0.60">/</tspan><tspan class="si" x="64.44" y="0.00" font-size="70.99" textLength="53.39" lengthAdjust="spacingAndGlyphs" stroke="#262626" stroke-width="0.20">H</tspan> <tspan class="s" x="146.69" y="4.92" font-size="80.60" textLength="14.68" lengthAdjust="spacingAndGlyphs" stroke="#262626" stroke-width="0.80">[</tspan><tspan class="s" x="160.97" y="-0.54" font-size="52.00" textLength="48.88" lengthAdjust="spacingAndGlyphs">−</tspan><tspan class="s" x="209.79" y="4.92" font-size="80.60" textLength="14.36" lengthAdjust="spacingAndGlyphs" stroke="#262626" stroke-width="0.80">]</tspan></text>
</g>
<rect x="1271" y="1039" width="809" height="473" fill="#fff" stroke="#262626" stroke-width="4"/>
<path d="M1288 1078.9H1464" stroke="#ff0000" stroke-width="3.9" shape-rendering="crispEdges"/>
<path d="M1376 1056.2L1393 1078.9L1376 1101.6L1359 1078.9Z" stroke="#ff0000" stroke-width="5.9" fill="none" stroke-miterlimit="10" shape-rendering="crispEdges"/>
<path d="M1288 1144.9H1464" stroke="#00ff00" stroke-width="3.9" shape-rendering="crispEdges"/>
<path d="M1376 1122.2L1393 1144.9L1376 1167.6L1359 1144.9Z" stroke="#00ff00" stroke-width="5.9" fill="none" stroke-miterlimit="10" shape-rendering="crispEdges"/>
<path d="M1288 1209.8H1464" stroke="#edb120" stroke-width="3.9" shape-rendering="crispEdges"/>
<path d="M1376 1187.1L1393 1209.8L1376 1232.5L1359 1209.8Z" stroke="#edb120" stroke-width="5.9" fill="none" stroke-miterlimit="10" shape-rendering="crispEdges"/>
<path d="M1288 1274.8H1464" stroke="#ff0000" stroke-width="3.9" shape-rendering="crispEdges"/>
<path d="M1358 1274.8H1394M1376 1256.8V1292.8M1363.3 1262.1L1388.7 1287.5M1363.3 1287.5L1388.7 1262.1" stroke="#ff0000" stroke-width="5.9" fill="none" shape-rendering="crispEdges"/>
<path d="M1288 1341.1H1464" stroke="#0000ff" stroke-width="3.9" shape-rendering="crispEdges"/>
<path d="M1358 1341.1H1394M1376 1323.1V1359.1M1363.3 1328.4L1388.7 1353.8M1363.3 1353.8L1388.7 1328.4" stroke="#0000ff" stroke-width="5.9" fill="none" shape-rendering="crispEdges"/>
<path d="M1288 1406.1H1464" stroke="#00695a" stroke-width="3.9" shape-rendering="crispEdges"/>
<path d="M1358 1406.1H1394M1376 1388.1V1424.1M1363.3 1393.4L1388.7 1418.8M1363.3 1418.8L1388.7 1393.4" stroke="#00695a" stroke-width="5.9" fill="none" shape-rendering="crispEdges"/>
<path d="M1288 1471.4H1464" stroke="#000" stroke-width="13.2" shape-rendering="crispEdges"/>
<text fill="#000"><tspan class="s" x="1476.24" y="1092.17" font-size="53.43" textLength="181.09" lengthAdjust="spacingAndGlyphs" stroke="#000" stroke-width="1.20">Delft3D</tspan> <tspan class="si" x="1675.68" y="1092.80" font-size="54.39" textLength="25.39" lengthAdjust="spacingAndGlyphs" stroke="#000" stroke-width="1.20">k</tspan> <tspan class="s" x="1716.37" y="1095.16" font-size="52.00" textLength="39.78" lengthAdjust="spacingAndGlyphs">−</tspan> <tspan class="si" x="1768.75" y="1092.51" font-size="49.38" textLength="18.10" lengthAdjust="spacingAndGlyphs" stroke="#000" stroke-width="1.20">ϵ</tspan></text>
<text fill="#000"><tspan class="s" x="1476.24" y="1157.37" font-size="53.43" textLength="181.09" lengthAdjust="spacingAndGlyphs" stroke="#000" stroke-width="1.20">Delft3D</tspan> <tspan class="si" x="1675.68" y="1158.00" font-size="54.39" textLength="25.39" lengthAdjust="spacingAndGlyphs" stroke="#000" stroke-width="1.20">k</tspan> <tspan class="s" x="1716.37" y="1160.36" font-size="52.00" textLength="39.78" lengthAdjust="spacingAndGlyphs">−</tspan> <tspan class="si" x="1771.00" y="1157.40" font-size="55.11" textLength="33.58" lengthAdjust="spacingAndGlyphs" stroke="#000" stroke-width="1.20">L</tspan></text>
<text fill="#000"><tspan class="s" x="1476.24" y="1222.47" font-size="53.43" textLength="181.09" lengthAdjust="spacingAndGlyphs" stroke="#000" stroke-width="1.20">Delft3D</tspan> <tspan class="s" x="1675.16" y="1220.93" font-size="52.42" textLength="80.82" lengthAdjust="spacingAndGlyphs" stroke="#000" stroke-width="1.20">Alg</tspan></text>
<text fill="#000"><tspan class="s" x="1476.55" y="1287.74" font-size="56.27" textLength="156.34" lengthAdjust="spacingAndGlyphs" stroke="#000" stroke-width="1.20">ROMS</tspan> <tspan class="si" x="1650.50" y="1288.10" font-size="54.39" textLength="25.08" lengthAdjust="spacingAndGlyphs" stroke="#000" stroke-width="1.20">k</tspan> <tspan class="s" x="1689.68" y="1290.46" font-size="52.00" textLength="40.87" lengthAdjust="spacingAndGlyphs">−</tspan> <tspan class="si" x="1742.61" y="1287.81" font-size="49.38" textLength="18.70" lengthAdjust="spacingAndGlyphs" stroke="#000" stroke-width="1.20">ϵ</tspan></text>
<text fill="#000"><tspan class="s" x="1476.55" y="1353.24" font-size="56.27" textLength="156.34" lengthAdjust="spacingAndGlyphs" stroke="#000" stroke-width="1.20">ROMS</tspan> <tspan class="si" x="1650.50" y="1353.60" font-size="54.39" textLength="25.08" lengthAdjust="spacingAndGlyphs" stroke="#000" stroke-width="1.20">k</tspan> <tspan class="s" x="1689.68" y="1355.96" font-size="52.00" textLength="40.87" lengthAdjust="spacingAndGlyphs">−</tspan> <tspan class="si" x="1740.46" y="1353.31" font-size="49.38" textLength="37.10" lengthAdjust="spacingAndGlyphs" stroke="#000" stroke-width="1.20">ω</tspan></text>
<text fill="#000"><tspan class="s" x="1476.55" y="1418.34" font-size="56.27" textLength="156.34" lengthAdjust="spacingAndGlyphs" stroke="#000" stroke-width="1.20">ROMS</tspan> <tspan class="si" x="1650.50" y="1418.70" font-size="54.39" textLength="25.08" lengthAdjust="spacingAndGlyphs" stroke="#000" stroke-width="1.20">k</tspan> <tspan class="s" x="1689.68" y="1421.06" font-size="52.00" textLength="40.87" lengthAdjust="spacingAndGlyphs">−</tspan> <tspan class="si" x="1742.73" y="1418.90" font-size="54.68" textLength="44.92" lengthAdjust="spacingAndGlyphs" stroke="#000" stroke-width="0.70">kl</tspan></text>
<text fill="#000"><tspan class="si" x="1475.27" y="1483.97" font-size="55.52" textLength="52.94" lengthAdjust="spacingAndGlyphs" stroke="#000" stroke-width="0.60">W</tspan><tspan class="si" x="1532.54" y="1484.09" font-size="50.64" textLength="33.61" lengthAdjust="spacingAndGlyphs" stroke="#000" stroke-width="0.40">u</tspan><tspan class="s" x="1564.03" y="1484.23" font-size="56.74" textLength="38.35" lengthAdjust="spacingAndGlyphs" stroke="#000" stroke-width="1.20">&amp;</tspan><tspan class="si" x="1601.53" y="1484.00" font-size="54.96" textLength="36.50" lengthAdjust="spacingAndGlyphs" stroke="#000" stroke-width="0.60">T</tspan><tspan class="si" x="1645.00" y="1484.07" font-size="53.13" textLength="123.78" lengthAdjust="spacingAndGlyphs" stroke="#000" stroke-width="0.40">sanis</tspan> <tspan class="si" x="1786.41" y="1483.80" font-size="53.24" textLength="120.71" lengthAdjust="spacingAndGlyphs" stroke="#000" stroke-width="0.40">anal.</tspan> <tspan class="si" x="1924.07" y="1484.06" font-size="53.62" textLength="134.74" lengthAdjust="spacingAndGlyphs" stroke="#000" stroke-width="0.40">model</tspan></text>
</svg></body></html>
